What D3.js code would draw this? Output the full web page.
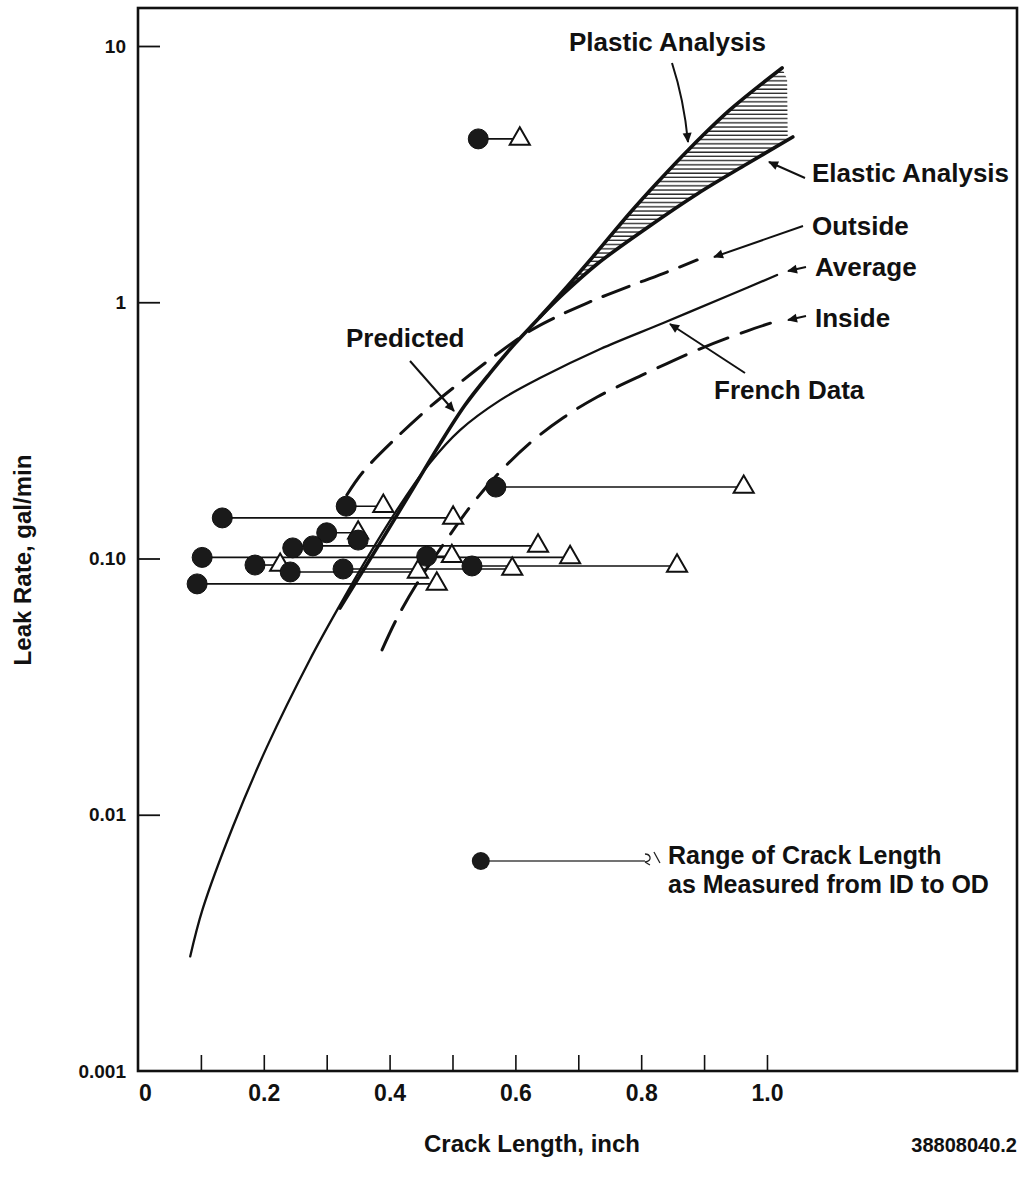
<!DOCTYPE html>
<html><head><meta charset="utf-8">
<script src="https://cdn.jsdelivr.net/npm/d3@7"></script>
<style>
html,body{margin:0;padding:0;background:#fff;}
svg{display:block;}
text{font-family:"Liberation Sans",Arial,Helvetica,sans-serif;font-weight:bold;fill:#111;}
</style></head><body>
<svg id="chart" width="1026" height="1190"></svg>
<script>
// ---- axes ----
const xTickValues = [0.1, 0.2, 0.3, 0.4, 0.5, 0.6, 0.7, 0.8, 0.9, 1.0];
const xLabelValues = [0, 0.2, 0.4, 0.6, 0.8, 1.0];
const xLabelText = ["0", "0.2", "0.4", "0.6", "0.8", "1.0"];
const yTickValues = [10, 1, 0.1, 0.01];
const yLabelValues = [10, 1, 0.1, 0.01, 0.001];
const yLabelText = ["10", "1", "0.10", "0.01", "0.001"];

// ---- measured leaks: crack length at ID (circle) and OD (triangle), leak rate ----
const idLength = [0.541, 0.331, 0.134, 0.569, 0.300, 0.350, 0.278, 0.246, 0.102, 0.459, 0.531, 0.186, 0.326, 0.242, 0.094];
const odLength = [0.607, 0.390, 0.501, 0.963, 0.350, null, 0.636, null, 0.687, 0.499, 0.857, 0.226, 0.595, 0.445, 0.475];
const leakRate = [4.34, 0.160, 0.144, 0.190, 0.126, 0.118, 0.112, 0.110, 0.101, 0.102, 0.0935, 0.0943, 0.0910, 0.0886, 0.0796];

// ---- French data curves ----
const averageX = [0.083, 0.103, 0.151, 0.205, 0.273, 0.321, 0.369, 0.417, 0.464, 0.512, 0.576, 0.639, 0.735, 0.835, 0.941, 1.016];
const averageY = [0.0028, 0.0043, 0.0090, 0.0184, 0.0402, 0.0658, 0.105, 0.162, 0.236, 0.317, 0.415, 0.506, 0.657, 0.830, 1.067, 1.277];
const outsideX = [0.332, 0.358, 0.412, 0.464, 0.517, 0.571, 0.623, 0.655, 0.714, 0.782, 0.841, 0.889];
const outsideY = [0.177, 0.218, 0.298, 0.390, 0.497, 0.628, 0.772, 0.852, 0.993, 1.157, 1.312, 1.462];
const insideX = [0.388, 0.412, 0.444, 0.485, 0.528, 0.571, 0.623, 0.676, 0.730, 0.809, 0.889, 0.968, 1.021];
const insideY = [0.0440, 0.0586, 0.0802, 0.113, 0.159, 0.212, 0.282, 0.354, 0.427, 0.530, 0.651, 0.772, 0.852];

// ---- predicted curves ----
const plasticX = [0.321, 0.382, 0.437, 0.480, 0.520, 0.560, 0.599, 0.639, 0.676, 0.727, 0.782, 0.825, 0.878, 0.941, 1.024];
const plasticY = [0.0641, 0.112, 0.187, 0.280, 0.397, 0.530, 0.688, 0.876, 1.106, 1.543, 2.230, 2.92, 4.00, 5.63, 8.21];
const elasticX = [0.639, 0.676, 0.730, 0.809, 0.889, 0.968, 1.041];
const elasticY = [0.876, 1.077, 1.410, 1.949, 2.645, 3.463, 4.415];
// right edge of the band between the two analyses
const bandEdgeX = [1.032, 1.033];
const bandEdgeY = [7.4, 4.3];

// ---- key sample ----
const keyId = [0.545];
const keyOd = [0.806];
const keyRate = [0.0066];

// ---- layout ----
const frame = {left: 138, right: 1017, top: 8, bottom: 1071};
const svg = d3.select("#chart");

const x = d3.scaleLinear().domain([0, 1.3975]).range([frame.left, frame.right]);
const y = d3.scaleLog().domain([0.001, 14.07]).range([frame.bottom, frame.top]);

const zip = (xs, ys) => xs.map((v, i) => [v, ys[i]]);
const line = d3.line().x(d => x(d[0])).y(d => y(d[1])).curve(d3.curveCatmullRom.alpha(0.5));

// markers and hatching
const defs = svg.append("defs");
defs.append("marker").attr("id", "head")
  .attr("viewBox", "0 0 10 10").attr("refX", 9).attr("refY", 5)
  .attr("markerWidth", 15).attr("markerHeight", 10)
  .attr("markerUnits", "userSpaceOnUse").attr("orient", "auto")
  .append("path").attr("d", "M0,0.5 L10,5 L0,9.5 Z").attr("fill", "#111");
const pat = defs.append("pattern").attr("id", "hatch")
  .attr("patternUnits", "userSpaceOnUse").attr("width", 8).attr("height", 4.2);
pat.append("line").attr("x1", 0).attr("x2", 8).attr("y1", 1).attr("y2", 1)
  .attr("stroke", "#1a1a1a").attr("stroke-width", 1.3);

// frame
svg.append("rect")
  .attr("x", frame.left).attr("y", frame.top)
  .attr("width", frame.right - frame.left).attr("height", frame.bottom - frame.top)
  .attr("fill", "none").attr("stroke", "#111").attr("stroke-width", 2.6);

// x ticks (inward) and labels
const gxT = svg.append("g").attr("transform", `translate(0,${frame.bottom})`)
  .call(d3.axisBottom(x).tickValues(xTickValues).tickSizeInner(-16).tickSizeOuter(0).tickFormat(""));
gxT.select(".domain").remove();
gxT.selectAll(".tick line").attr("stroke", "#111").attr("stroke-width", 1.6);

const gxL = svg.append("g").attr("transform", `translate(0,${frame.bottom})`)
  .call(d3.axisBottom(x).tickValues(xLabelValues).tickSize(0).tickPadding(14)
    .tickFormat((d, i) => xLabelText[i]));
gxL.select(".domain").remove();
gxL.selectAll("text").attr("font-size", 23).attr("font-family", null).attr("fill", "#111")
  .attr("dx", (d) => d === 0 ? 7 : 0);

// y ticks (inward) and labels
const gyT = svg.append("g").attr("transform", `translate(${frame.left},0)`)
  .call(d3.axisLeft(y).tickValues(yTickValues).tickSizeInner(-22).tickSizeOuter(0).tickFormat(""));
gyT.select(".domain").remove();
gyT.selectAll(".tick line").attr("stroke", "#111").attr("stroke-width", 1.8);

const gyL = svg.append("g").attr("transform", `translate(${frame.left},0)`)
  .call(d3.axisLeft(y).tickValues(yLabelValues).tickSize(0).tickPadding(12)
    .tickFormat((d, i) => yLabelText[i]));
gyL.select(".domain").remove();
gyL.selectAll("text").attr("font-size", 19).attr("font-family", null).attr("fill", "#111");

// axis titles
svg.append("text").attr("x", 532).attr("y", 1152)
  .attr("text-anchor", "middle").attr("font-size", 24).text("Crack Length, inch");
svg.append("text").attr("transform", "translate(31,560) rotate(-90)")
  .attr("text-anchor", "middle").attr("font-size", 24).text("Leak Rate, gal/min");
svg.append("text").attr("x", frame.right).attr("y", 1152)
  .attr("text-anchor", "end").attr("font-size", 20).text("38808040.2");

// band between plastic and elastic analyses
const bandTop = zip(plasticX, plasticY).filter(d => d[0] >= elasticX[0]);
const bandBottom = zip(elasticX, elasticY).filter(d => d[0] <= bandEdgeX[1]).reverse();
const bandPath = line(bandTop) + "L" + zip(bandEdgeX, bandEdgeY).map(d => `${x(d[0])},${y(d[1])}`).join("L")
  + "L" + line(bandBottom).slice(1) + "Z";
svg.append("path").attr("d", bandPath).attr("fill", "url(#hatch)").attr("stroke", "none");

// curves
const curves = [
  {pts: zip(averageX, averageY), w: 2.3, dash: null},
  {pts: zip(outsideX, outsideY), w: 3, dash: "28,13"},
  {pts: zip(insideX, insideY), w: 3, dash: "31,14"},
  {pts: zip(plasticX, plasticY), w: 3.6, dash: null},
  {pts: zip(elasticX, elasticY), w: 3.6, dash: null}
];
svg.append("g").selectAll("path").data(curves).join("path")
  .attr("d", d => line(d.pts)).attr("fill", "none").attr("stroke", "#111")
  .attr("stroke-width", d => d.w).attr("stroke-dasharray", d => d.dash)
  .attr("stroke-linecap", "round");

// measured leaks
const leaks = idLength.map((v, i) => ({id: v, od: odLength[i], rate: leakRate[i]}));
const ranged = leaks.filter(d => d.od !== null);
svg.append("g").selectAll("line").data(ranged).join("line")
  .attr("x1", d => x(d.id)).attr("x2", d => x(d.od))
  .attr("y1", d => y(d.rate)).attr("y2", d => y(d.rate))
  .attr("stroke", "#111").attr("stroke-width", 1.6);
const tri = d3.symbol().type(d3.symbolTriangle).size(175);
svg.append("g").selectAll("path").data(ranged).join("path")
  .attr("transform", d => `translate(${x(d.od)},${y(d.rate)})`)
  .attr("d", tri).attr("fill", "#fff").attr("stroke", "#111").attr("stroke-width", 2);
svg.append("g").selectAll("circle").data(leaks).join("circle")
  .attr("cx", d => x(d.id)).attr("cy", d => y(d.rate)).attr("r", 10)
  .attr("fill", "#1a1a1a").attr("stroke", "#111").attr("stroke-width", 1);

// key sample
const key = keyId.map((v, i) => ({id: v, od: keyOd[i], rate: keyRate[i]}));
const gk = svg.append("g");
gk.selectAll("line").data(key).join("line")
  .attr("x1", d => x(d.id)).attr("x2", d => x(d.od))
  .attr("y1", d => y(d.rate)).attr("y2", d => y(d.rate))
  .attr("stroke", "#444").attr("stroke-width", 1.3);
gk.selectAll("circle").data(key).join("circle")
  .attr("cx", d => x(d.id)).attr("cy", d => y(d.rate)).attr("r", 9).attr("fill", "#1a1a1a");
gk.selectAll("path").data(key).join("path")
  .attr("d", d => { const px = x(d.od), py = y(d.rate);
    return `M${px},${py + 1} q6,-1 5,-5 q-1,-3 -5,-3 M${px},${py + 1} l5,3 M${px + 9},${py - 9} l6,11`; })
  .attr("fill", "none").attr("stroke", "#222").attr("stroke-width", 1.3);

// annotations
const notes = [
  {text: "Plastic Analysis", x: 569, y: 51, size: 26},
  {text: "Elastic Analysis", x: 812, y: 182, size: 26},
  {text: "Outside", x: 812, y: 235, size: 26},
  {text: "Average", x: 815, y: 276, size: 26},
  {text: "Inside", x: 815, y: 327, size: 26},
  {text: "Predicted", x: 346, y: 347, size: 26},
  {text: "French Data", x: 714, y: 399, size: 26},
  {text: "Range of Crack Length", x: 668, y: 864, size: 25},
  {text: "as Measured from ID to OD", x: 668, y: 892.5, size: 25}
];
svg.append("g").selectAll("text").data(notes).join("text")
  .attr("x", d => d.x).attr("y", d => d.y).attr("font-size", d => d.size).text(d => d.text);

const arrows = [
  "M672,63 Q684,100 688,142",
  "M805,178 L769,162",
  "M803,226 L714,257",
  "M806,267 L788,271",
  "M806,316 L788,320",
  "M745,373 L670,324",
  "M410,361 L454,411"
];
svg.append("g").selectAll("path").data(arrows).join("path")
  .attr("d", d => d).attr("fill", "none").attr("stroke", "#111").attr("stroke-width", 2)
  .attr("marker-end", "url(#head)");
</script>
</body></html>
